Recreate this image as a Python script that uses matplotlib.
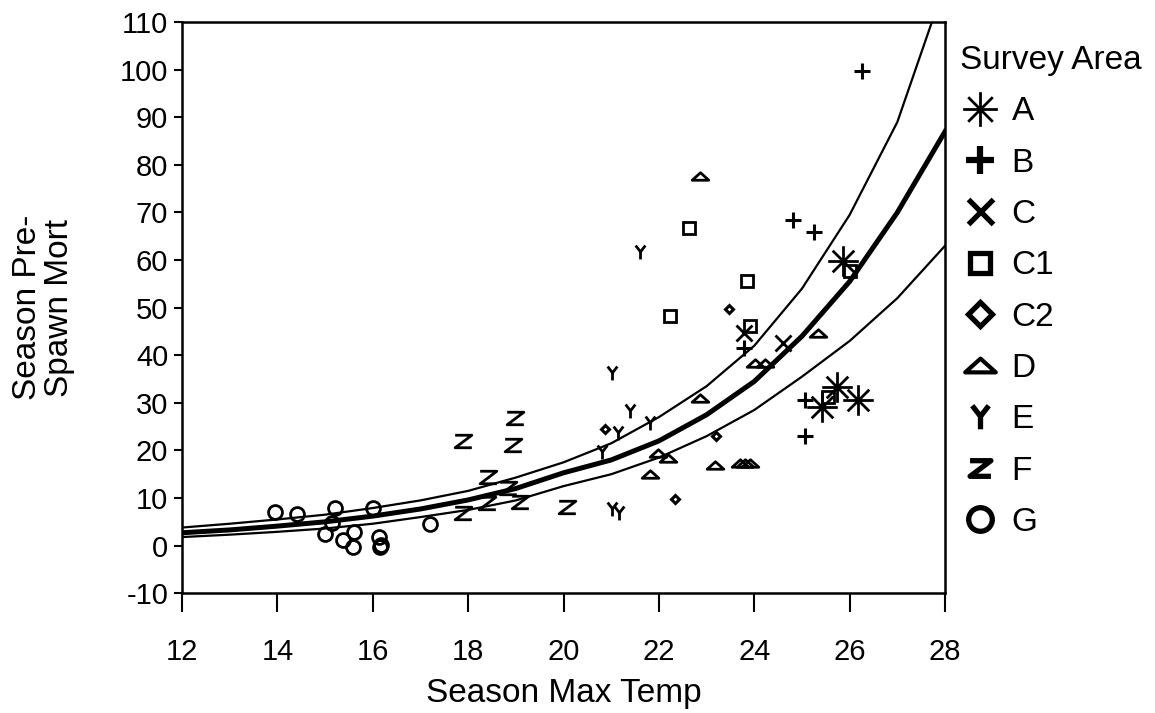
import numpy as np
import matplotlib
matplotlib.use("Agg")
import matplotlib.pyplot as plt
from matplotlib.path import Path
from matplotlib.lines import Line2D
from matplotlib import font_manager

plt.rcParams['font.family'] = ['Liberation Sans', 'DejaVu Sans']

# narrow face for the tick numbers if it is around
names = {f.name for f in font_manager.fontManager.ttflist}
if 'Liberation Sans Narrow' in names:
    tick_font, tick_size = 'Liberation Sans Narrow', 24
else:
    tick_font, tick_size = 'Liberation Sans', 21

curve_x = [12, 13, 14, 15, 16, 17, 18, 19, 20, 21, 22, 23, 24, 25, 26, 27, 28]
fit_y = [2.7, 3.3, 4.1, 5.0, 6.2, 7.7, 9.6, 12.0, 15.3, 18.0, 22.0, 27.5, 34.5, 44.0, 55.5, 70.0, 87.0]
upper_y = [3.8, 4.6, 5.5, 6.5, 7.9, 9.5, 11.5, 14.3, 17.5, 21.5, 27.0, 33.5, 42.0, 54.0, 69.5, 89.0, 118.0]
lower_y = [1.8, 2.3, 2.9, 3.6, 4.6, 6.0, 7.5, 9.5, 12.5, 15.0, 18.5, 23.0, 28.5, 35.5, 43.0, 52.0, 63.0]

# survey points
a_x = [25.86, 25.73, 26.17, 25.42]
a_y = [59.7, 33.4, 30.7, 29.2]
b_x = [26.26, 24.81, 25.25, 25.06, 25.06, 23.78]
b_y = [99.8, 68.5, 65.8, 23.1, 30.7, 41.6]
c_x = [23.78, 24.6]
c_y = [44.7, 42.6]
c1_x = [22.63, 23.85, 22.23, 23.91, 25.55, 26.0]
c1_y = [66.8, 55.5, 48.3, 46.2, 31.3, 57.6]
c2_x = [20.87, 22.34, 23.2, 23.47]
c2_y = [24.6, 9.9, 23.1, 49.8]
d_x = [22.86, 22.86, 25.34, 24.02, 24.22, 21.98, 22.19, 21.81, 23.18, 23.7, 23.8, 23.9]
d_y = [77.7, 31.1, 44.7, 38.4, 38.4, 19.5, 18.4, 15.0, 17.0, 17.3, 17.3, 17.3]
e_x = [21.6, 21.02, 21.39, 21.14, 21.81, 20.81, 21.02, 21.16]
e_y = [61.6, 36.3, 28.2, 23.7, 25.8, 19.7, 7.6, 6.9]
f_x = [17.89, 18.94, 18.99, 18.42, 18.84, 17.89, 18.4, 19.09, 20.07]
f_y = [21.9, 21.2, 26.9, 14.5, 12.2, 6.9, 9.0, 9.2, 8.2]
g_x = [13.95, 14.41, 15.0, 15.15, 15.21, 15.38, 15.6, 15.59, 16.0, 16.13, 16.15, 16.17, 17.2]
g_y = [7.1, 6.7, 2.5, 4.8, 8.0, 1.1, 2.9, -0.2, 8.0, 1.9, -0.2, 0.2, 4.6]

# custom marker shapes
M, L, C = Path.MOVETO, Path.LINETO, Path.CLOSEPOLY
d = 0.707
star = Path([(0, -1), (0, 1), (-1, 0), (1, 0), (-d, -d), (d, d), (-d, d), (d, -d)],
            [M, L, M, L, M, L, M, L])
zee = Path([(-1, 0.75), (1, 0.75), (-1, -0.75), (1, -0.75)], [M, L, L, L])
why = Path([(0, -1), (0, 0.1), (-0.7, 1), (0, 0.1), (0.7, 1)], [M, L, M, L, L])
tri = Path([(-1, -0.45), (1, -0.45), (0, 0.45), (-1, -0.45)], [M, L, L, C])

groups = [
    ('A', a_x, a_y, star, 22, 25),
    ('B', b_x, b_y, '+', 11, 20),
    ('C', c_x, c_y, 'x', 11, 18),
    ('C1', c1_x, c1_y, 's', 8, 14),
    ('C2', c2_x, c2_y, 'D', 4.5, 12),
    ('D', d_x, d_y, tri, 12, 22),
    ('E', e_x, e_y, why, 10, 17),
    ('F', f_x, f_y, zee, 12, 15),
    ('G', g_x, g_y, 'o', 10, 17),
]

fig = plt.figure(figsize=(11.55, 7.13), dpi=100)
ax = fig.add_axes([0.1576, 0.168, 0.6606, 0.801])

ax.plot(curve_x, upper_y, color='black', lw=1.6, zorder=2)
ax.plot(curve_x, lower_y, color='black', lw=1.6, zorder=2)
ax.plot(curve_x, fit_y, color='black', lw=3.6, zorder=2)

handles = []
for name, xs, ys, mk, ms, lms in groups:
    mew = 2.2 if name in ('B', 'C2') else 2
    ax.plot(xs, ys, ls='none', marker=mk, ms=ms, mew=mew, mfc='none', mec='black', zorder=3)
    lmew = {'A': 2, 'B': 4.5, 'D': 3}.get(name, 3.8)
    handles.append(Line2D([], [], ls='none', marker=mk, ms=lms, mew=lmew,
                          mfc='none', mec='black', label=name))

ax.set_xlim(12, 28)
ax.set_ylim(-10, 110)
ax.set_xticks(range(12, 29, 2))
ax.set_yticks(range(-10, 111, 10))
ax.set_yticklabels([str(v) for v in range(-10, 111, 10)])
ax.tick_params(axis='x', direction='out', length=14, width=1.5, pad=18)
ax.tick_params(axis='y', direction='out', length=6, width=1.5, pad=4)
for lab in ax.get_xticklabels() + ax.get_yticklabels():
    lab.set_family([tick_font, 'DejaVu Sans'])
    lab.set_fontsize(tick_size)
for sp in ax.spines.values():
    sp.set_linewidth(1.8)

ax.set_xlabel('Season Max Temp', fontsize=24, labelpad=9)
ax.set_ylabel('Season Pre-\nSpawn Mort', fontsize=24, labelpad=32, linespacing=1.05)

leg = ax.legend(handles=handles, title='Survey Area', loc='upper left',
                bbox_to_anchor=(1.002, 0.983), frameon=False, fontsize=24,
                title_fontsize=24, labelspacing=0.61, handletextpad=0.35,
                handlelength=1.2, borderaxespad=0, alignment='left')

fig.savefig('out.png', dpi=100)
